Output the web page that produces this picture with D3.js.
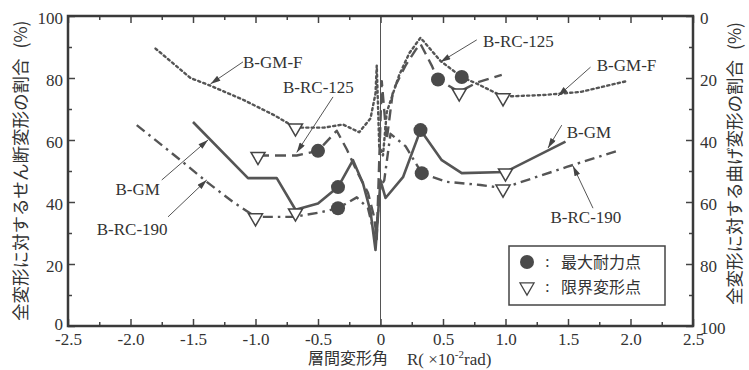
<!DOCTYPE html>
<html>
<head>
<meta charset="utf-8">
<script src="https://cdn.jsdelivr.net/npm/d3@7"></script>
<style>
  body { margin: 0; background: #fff; }
  svg text { font-family: "Liberation Serif", "Times New Roman", serif; fill: #333; }
  svg text.jp, svg tspan.jp { font-family: "Noto Sans CJK JP", sans-serif; }
</style>
</head>
<body>
<div id="chart"></div>
<script>
// R (x10^-2 rad) against share of shear deformation (%), four specimens

// B-GM-F (dotted)
const bgmfX = [-1.8, -1.52, -1.36, -1.1, -0.85, -0.68, -0.45, -0.3, -0.17, -0.08, -0.04, -0.03, -0.01, 0.02, 0.05, 0.15, 0.23, 0.32, 0.48, 0.65, 0.78, 0.98, 1.3, 1.6, 1.97];
const bgmfY = [89.5, 80, 77.5, 73, 68, 64, 64, 65, 62.5, 67, 75, 84, 58, 55, 69, 81, 88, 93, 85.5, 80.3, 78, 74, 74.5, 75.5, 79];

// B-RC-125 (dashed)
const brc125X = [-0.98, -0.67, -0.5, -0.35, -0.27, -0.19, -0.1, -0.05, -0.03, 0.01, 0.05, 0.1, 0.2, 0.28, 0.32, 0.41, 0.46, 0.63, 0.77, 0.97];
const brc125Y = [55, 55, 56.5, 63, 57, 50, 43, 35, 28, 79, 60, 76, 84, 89, 91, 84, 79.5, 75.5, 78.5, 81];

// B-GM (solid)
const bgmX = [-1.5, -1.06, -0.83, -0.68, -0.5, -0.34, -0.22, -0.14, -0.08, -0.04, 0.0, 0.04, 0.18, 0.32, 0.49, 0.65, 1.0, 1.48];
const bgmY = [65.8, 47.7, 47.7, 37.5, 39.5, 44.8, 53.5, 46, 37, 24.5, 47, 41.3, 48, 63.2, 53.5, 49.3, 49.7, 59.5];

// B-RC-190 (dash-dot)
const brc190X = [-1.95, -1.6, -1.39, -1.18, -1.0, -0.7, -0.5, -0.34, -0.19, -0.1, -0.04, 0.0, 0.03, 0.08, 0.2, 0.33, 0.53, 0.8, 0.98, 1.49, 1.92];
const brc190Y = [64.8, 53.5, 46.5, 40, 35.2, 35.2, 36.5, 38, 41.5, 38, 28, 45, 47, 62, 58, 49.3, 46.5, 45.5, 44.5, 51.3, 56.8];

// maximum strength points (filled circles)
const maxX = [-0.5, 0.46, 0.65, -0.34, 0.32, -0.34, 0.33];
const maxY = [56.5, 79.5, 80.3, 44.8, 63.2, 38, 49.3];

// deformation limit points (open triangles)
const limX = [-0.68, 0.98, -0.98, 0.63, -0.68, 1.0, -1.0, 0.98];
const limY = [64.2, 73.9, 55, 75.5, 36.8, 49.7, 35.2, 44.5];

const xMajor = [-2.5, -2.0, -1.5, -1.0, -0.5, 0, 0.5, 1.0, 1.5, 2.0, 2.5];
const xMinor = [-2.25, -1.75, -1.25, -0.75, -0.25, 0.25, 0.75, 1.25, 1.75, 2.25];
const yMajor = [0, 20, 40, 60, 80, 100];
const yMinor = [10, 30, 50, 70, 90];

// callout labels: text at (tx,ty), arrow from (x1,y1) to (x2,y2), data units
const noteText = ["B-GM-F", "B-RC-125", "B-GM", "B-RC-190", "B-RC-125", "B-GM-F", "B-GM", "B-RC-190"];
const noteTx = [-1.1, -0.78, -2.12, -2.27, 0.82, 1.73, 1.49, 1.36];
const noteTy = [83.2, 75.2, 42.3, 29.4, 90, 82.3, 60.6, 33.2];
const noteX1 = [-1.1, -0.38, -1.75, -1.7, 0.77, 1.68, 1.45, 1.7];
const noteY1 = [85.2, 73.9, 47.1, 35.2, 92.3, 83.5, 64.8, 38];
const noteX2 = [-1.36, -0.67, -1.38, -1.39, 0.48, 1.42, 1.34, 1.54];
const noteY2 = [78.1, 56, 60, 47.1, 85.2, 74.2, 57.4, 51.6];

const series = [
  {xs: bgmfX, ys: bgmfY, dash: "2.2,3.2", w: 2.4, cap: "round"},
  {xs: brc125X, ys: brc125Y, dash: "11,6", w: 2.4, cap: "butt"},
  {xs: brc190X, ys: brc190Y, dash: "10,5,2.5,5", w: 2.4, cap: "butt"},
  {xs: bgmX, ys: bgmY, dash: null, w: 2.6, cap: "butt"}
];

const W = 749, H = 370;
const pLeft = 68, pRight = 693, pTop = 16, pBottom = 326;
const ink = "#444";

let svg = d3.select("#chart").append("svg")
  .attr("width", W)
  .attr("height", H);

svg.append("rect").attr("width", W).attr("height", H).attr("fill", "#fff");

let x = d3.scaleLinear().domain([-2.5, 2.5]).range([pLeft, pRight]);
let y = d3.scaleLinear().domain([0, 100]).range([pBottom, pTop]);
let yR = d3.scaleLinear().domain([0, 100]).range([pTop, pBottom]);

let fmtX = d => d === 0 ? "0" : d3.format(".1f")(d).replace("\u2212", "-");

function styleAxis(g) {
  g.select(".domain").remove();
  g.selectAll(".tick line").attr("stroke", ink).attr("stroke-width", 1.5);
  g.selectAll(".tick text").attr("font-size", 17).attr("fill", "#333")
    .attr("font-family", "Liberation Serif, serif");
}

// bottom
svg.append("g").attr("transform", `translate(0,${pBottom})`)
  .call(d3.axisBottom(x).tickValues(xMajor).tickSize(-7).tickPadding(7).tickFormat(fmtX))
  .call(styleAxis);
svg.append("g").attr("transform", `translate(0,${pBottom})`)
  .call(d3.axisBottom(x).tickValues(xMinor).tickSize(-4).tickFormat(""))
  .call(styleAxis);
// top
svg.append("g").attr("transform", `translate(0,${pTop})`)
  .call(d3.axisTop(x).tickValues(xMajor).tickSize(-7).tickFormat(""))
  .call(styleAxis);
svg.append("g").attr("transform", `translate(0,${pTop})`)
  .call(d3.axisTop(x).tickValues(xMinor).tickSize(-4).tickFormat(""))
  .call(styleAxis);
// left
svg.append("g").attr("transform", `translate(${pLeft},0)`)
  .call(d3.axisLeft(y).tickValues(yMajor).tickSize(-7).tickPadding(5))
  .call(styleAxis)
  .call(g => g.selectAll(".tick text").attr("dy", d => d === 0 ? "0.2em" : "0.45em"));
svg.append("g").attr("transform", `translate(${pLeft},0)`)
  .call(d3.axisLeft(y).tickValues(yMinor).tickSize(-4).tickFormat(""))
  .call(styleAxis);
// right (bending share, reversed)
svg.append("g").attr("transform", `translate(${pRight},0)`)
  .call(d3.axisRight(yR).tickValues(yMajor).tickSize(-7).tickPadding(7))
  .call(styleAxis)
  .call(g => g.selectAll(".tick text").attr("dy", "0.45em"));
svg.append("g").attr("transform", `translate(${pRight},0)`)
  .call(d3.axisRight(yR).tickValues(yMinor).tickSize(-4).tickFormat(""))
  .call(styleAxis);

// zero line
svg.append("line")
  .attr("x1", x(0)).attr("x2", x(0))
  .attr("y1", pTop).attr("y2", pBottom)
  .attr("stroke", "#555").attr("stroke-width", 1);

// frame
svg.append("rect")
  .attr("x", pLeft).attr("y", pTop)
  .attr("width", pRight - pLeft).attr("height", pBottom - pTop)
  .attr("fill", "none").attr("stroke", "#3a3a3a").attr("stroke-width", 2.5);

// curves
let line = d3.line().x(d => x(d[0])).y(d => y(d[1]));
svg.append("g").selectAll("path")
  .data(series)
  .join("path")
    .attr("d", s => line(d3.zip(s.xs, s.ys)))
    .attr("fill", "none")
    .attr("stroke", "#555")
    .attr("stroke-width", s => s.w)
    .attr("stroke-linecap", s => s.cap)
    .attr("stroke-linejoin", "round")
    .attr("stroke-dasharray", s => s.dash);

// markers
let tri = d3.symbol().type(d3.symbolTriangle).size(85);
svg.append("g").selectAll("path")
  .data(d3.zip(limX, limY))
  .join("path")
    .attr("d", tri)
    .attr("transform", d => `translate(${x(d[0])},${y(d[1]) + 1}) rotate(180)`)
    .attr("fill", "#fff")
    .attr("stroke", ink)
    .attr("stroke-width", 1.5);

svg.append("g").selectAll("circle")
  .data(d3.zip(maxX, maxY))
  .join("circle")
    .attr("cx", d => x(d[0]))
    .attr("cy", d => y(d[1]))
    .attr("r", 7)
    .attr("fill", "#4a4a4a");

// callouts
svg.append("defs").append("marker")
  .attr("id", "arr")
  .attr("viewBox", "0 0 10 6")
  .attr("refX", 10).attr("refY", 3)
  .attr("markerWidth", 11).attr("markerHeight", 6)
  .attr("markerUnits", "userSpaceOnUse")
  .attr("orient", "auto")
  .append("path").attr("d", "M0,0 L10,3 L0,6 Z").attr("fill", "#444");

let notes = d3.range(noteText.length);
svg.append("g").selectAll("line")
  .data(notes)
  .join("line")
    .attr("x1", i => x(noteX1[i])).attr("y1", i => y(noteY1[i]))
    .attr("x2", i => x(noteX2[i])).attr("y2", i => y(noteY2[i]))
    .attr("stroke", "#555").attr("stroke-width", 1)
    .attr("marker-end", "url(#arr)");
svg.append("g").selectAll("text")
  .data(notes)
  .join("text")
    .attr("x", i => x(noteTx[i]))
    .attr("y", i => y(noteTy[i]))
    .attr("font-size", 17)
    .text(i => noteText[i]);

// legend
let lg = svg.append("g");
lg.append("rect")
  .attr("x", 509).attr("y", 246).attr("width", 156).attr("height", 59)
  .attr("fill", "#fff").attr("stroke", ink).attr("stroke-width", 1.5);
lg.append("circle").attr("cx", 527).attr("cy", 262).attr("r", 7).attr("fill", "#4a4a4a");
lg.append("path").attr("d", tri)
  .attr("transform", "translate(527,287) rotate(180)")
  .attr("fill", "#fff").attr("stroke", ink).attr("stroke-width", 1.3);
[["最大耐力点", 268], ["限界変形点", 293]].forEach(([t, by]) => {
  lg.append("text").attr("x", 545).attr("y", by - 1).attr("font-size", 17).text(":");
  lg.append("text").attr("class", "jp").attr("x", 561).attr("y", by)
    .attr("font-size", 16).text(t);
});

// axis titles
svg.append("text").attr("class", "jp")
  .attr("transform", "translate(27,321) rotate(-90)")
  .attr("font-size", 17.5)
  .text("全変形に対するせん断変形の割合")
  .append("tspan").attr("dx", 10).text("(%)");
svg.append("text").attr("class", "jp")
  .attr("transform", "translate(741,305) rotate(-90)")
  .attr("font-size", 17.5)
  .text("全変形に対する曲げ変形の割合")
  .append("tspan").attr("dx", 10).text("(%)");

svg.append("text").attr("class", "jp")
  .attr("x", 308).attr("y", 364).attr("font-size", 16)
  .text("層間変形角");
let xt = svg.append("text").attr("x", 407).attr("y", 365).attr("font-size", 17);
xt.append("tspan").text("R( ×10");
xt.append("tspan").attr("font-size", 11).attr("dy", -7).text("-2");
xt.append("tspan").attr("dy", 7).text("rad)");
</script>
</body>
</html>
